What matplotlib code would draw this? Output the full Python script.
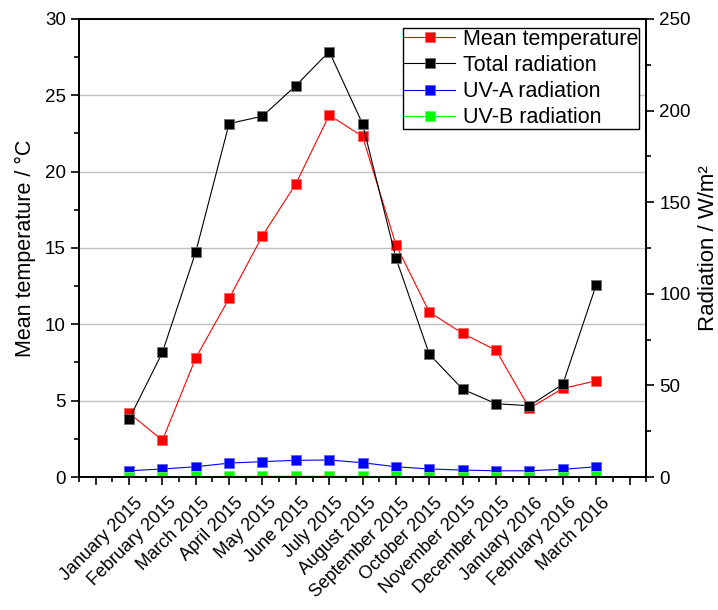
import matplotlib
matplotlib.use("Agg")
import matplotlib.pyplot as plt
import matplotlib.transforms as mtransforms
from matplotlib.ticker import MultipleLocator, FixedLocator
import numpy as np

plt.rcParams['font.family'] = ['Liberation Sans', 'DejaVu Sans']

months = ['January 2015', 'February 2015', 'March 2015', 'April 2015', 'May 2015',
          'June 2015', 'July 2015', 'August 2015', 'September 2015', 'October 2015',
          'November 2015', 'December 2015', 'January 2016', 'February 2016', 'March 2016']

# monthly means
mean_temp = [4.2, 2.4, 7.8, 11.7, 15.8, 19.2, 23.7, 22.3, 15.2, 10.8, 9.4, 8.3, 4.5, 5.8, 6.3]
total_rad = [31.5, 68, 122.8, 192.9, 196.9, 213.6, 232.2, 192.7, 119.4, 67, 47.9, 40, 38.9, 50.6, 104.8]
uva_rad = [3.4, 4.4, 5.6, 7.6, 8.4, 9.1, 9.3, 7.8, 5.6, 4.4, 3.8, 3.4, 3.4, 4.2, 5.6]
uvb_rad = [0.2, 0.2, 0.3, 0.3, 0.4, 0.4, 0.4, 0.3, 0.3, 0.2, 0.2, 0.2, 0.2, 0.2, 0.3]

x = np.arange(1, len(months) + 1)

fig = plt.figure(figsize=(7.18, 6.10), dpi=100)
ax = fig.add_axes([0.110, 0.218, 0.790, 0.751])
ax2 = ax.twinx()

mk = dict(marker='s', markersize=6.7, linewidth=0.8, markeredgewidth=0.6)
l1, = ax.plot(x, mean_temp, color='#ff0000', markeredgecolor='#ff6060', label='Mean temperature', **mk)
l2, = ax2.plot(x, total_rad, color='black', markeredgecolor='#707070', label='Total radiation', **mk)
l3, = ax2.plot(x, uva_rad, color='#0000ff', markeredgecolor='#6060ff', label='UV-A radiation', **mk)
l4, = ax2.plot(x, uvb_rad, color='#00ff00', markeredgecolor='#60ff60', label='UV-B radiation', **mk)

ax.set_xlim(-0.5, len(months) + 1.5)
ax.set_ylim(0, 30)
ax2.set_ylim(0, 250)

ax.yaxis.set_major_locator(MultipleLocator(5))
ax.yaxis.set_minor_locator(MultipleLocator(2.5))
ax2.yaxis.set_major_locator(MultipleLocator(50))
ax2.yaxis.set_minor_locator(MultipleLocator(25))

for a in (ax, ax2):
    a.tick_params(which='major', direction='out', length=6, width=1.2, labelsize=13.5, color='black')
    a.tick_params(which='minor', direction='out', length=3.5, width=1.2)
    for s in a.spines.values():
        s.set_linewidth(1.3)

ax.xaxis.set_major_locator(FixedLocator(np.arange(0, len(months) + 2)))
ax.xaxis.set_minor_locator(FixedLocator(np.arange(-0.5, len(months) + 2, 1.0)))
ax.set_xticklabels([''] + months + [''], rotation=45, ha='right', rotation_mode='anchor', fontsize=13)
# nudge the slanted month labels a little to the right
shift = mtransforms.ScaledTranslation(3.6 / 72, -3 / 72, fig.dpi_scale_trans)
for lab in ax.get_xticklabels():
    lab.set_transform(lab.get_transform() + shift)

ax.grid(axis='y', which='major', color='#c0c0c0', linewidth=1.0)
ax.set_axisbelow(True)

ax.set_ylabel('Mean temperature / °C', fontsize=15.5, labelpad=6)
ax2.set_ylabel('Radiation / W/m²', fontsize=16, labelpad=5)

leg = ax2.legend(handles=[l1, l2, l3, l4], loc='upper right', bbox_to_anchor=(0.9995, 0.995),
                 fontsize=15.5, frameon=True, fancybox=False, edgecolor='black',
                 handlelength=2.4, handletextpad=0.35, labelspacing=0.24, borderpad=0.05,
                 borderaxespad=0.3)
leg.get_frame().set_linewidth(1.0)
leg.get_frame().set_alpha(1.0)

fig.savefig('out.png', dpi=100)
